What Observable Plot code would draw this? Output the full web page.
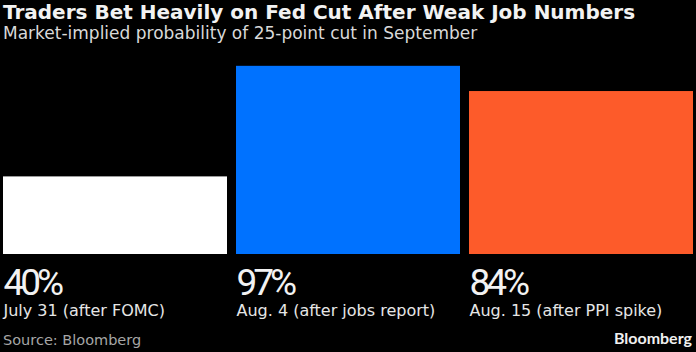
<!DOCTYPE html>
<html>
<head>
<meta charset="utf-8">
<script src="https://cdn.jsdelivr.net/npm/d3@7"></script>
<script src="https://cdn.jsdelivr.net/npm/@observablehq/plot@0.6"></script>
<style>
  html, body { margin: 0; padding: 0; background: #000; }
  #wrap { position: relative; width: 696px; height: 352px; background: #000; overflow: hidden; }
  .title { position: absolute; left: 3px; top: 0px; font-family: "DejaVu Sans", sans-serif; font-weight: bold; font-size: 20px; line-height: normal; color: #f2f2f2; white-space: nowrap; }
  .subtitle { position: absolute; left: 3px; top: 23px; font-family: "DejaVu Sans", sans-serif; font-size: 17px; line-height: 20px; color: #d9d9d9; white-space: nowrap; }
  #chart { position: absolute; left: 0; top: 46px; }
  .source { position: absolute; left: 3px; top: 331px; font-family: "DejaVu Sans", sans-serif; font-size: 14.5px; line-height: 18px; color: #a6a6a6; white-space: nowrap; }
  .logo { position: absolute; right: 4px; top: 328px; font-family: Lato, sans-serif; font-weight: bold; font-size: 16px; line-height: 20px; color: #f0f0f0; white-space: nowrap; }
  .pct text { letter-spacing: -4px; }
</style>
</head>
<body>
<div id="wrap">
  <div class="title">Traders Bet Heavily on Fed Cut After Weak Job Numbers</div>
  <div class="subtitle">Market-implied probability of 25-point cut in September</div>
  <div id="chart"></div>
  <div class="source">Source: Bloomberg</div>
  <div class="logo">Bloomberg</div>
</div>
<script>
const categories = ["July 31 (after FOMC)", "Aug. 4 (after jobs report)", "Aug. 15 (after PPI spike)"];
const values = [40, 97, 84];
const colors = ["#ffffff", "#0072ff", "#fd5b2a"];

const data = categories.map((c, i) => ({category: c, value: values[i], color: colors[i]}));

const chart = Plot.plot({
  width: 696,
  height: 280,
  marginLeft: 3,
  marginRight: 3,
  marginTop: 14,
  marginBottom: 72,
  style: {background: "#000", color: "#fff", overflow: "visible"},
  x: {domain: categories, axis: null, paddingInner: 9 / 233, paddingOuter: 0},
  y: {domain: [0, 100], axis: null},
  marks: [
    Plot.barY(data, {x: "category", y: "value", fill: "color"}),
    Plot.text(data, {
      x: "category", y: () => 0, text: d => d.value + "%",
      textAnchor: "start", lineAnchor: "bottom", dx: -112, dy: 40,
      fill: "#f2f2f2", fontSize: 37, fontFamily: "Roboto, sans-serif",
      className: "pct"
    }),
    Plot.text(data, {
      x: "category", y: () => 0, text: "category",
      textAnchor: "start", lineAnchor: "bottom", dx: -112, dy: 61,
      fill: "#e6e6e6", fontSize: 16, fontFamily: "'DejaVu Sans', sans-serif"
    })
  ]
});
document.getElementById("chart").appendChild(chart);
</script>
</body>
</html>
